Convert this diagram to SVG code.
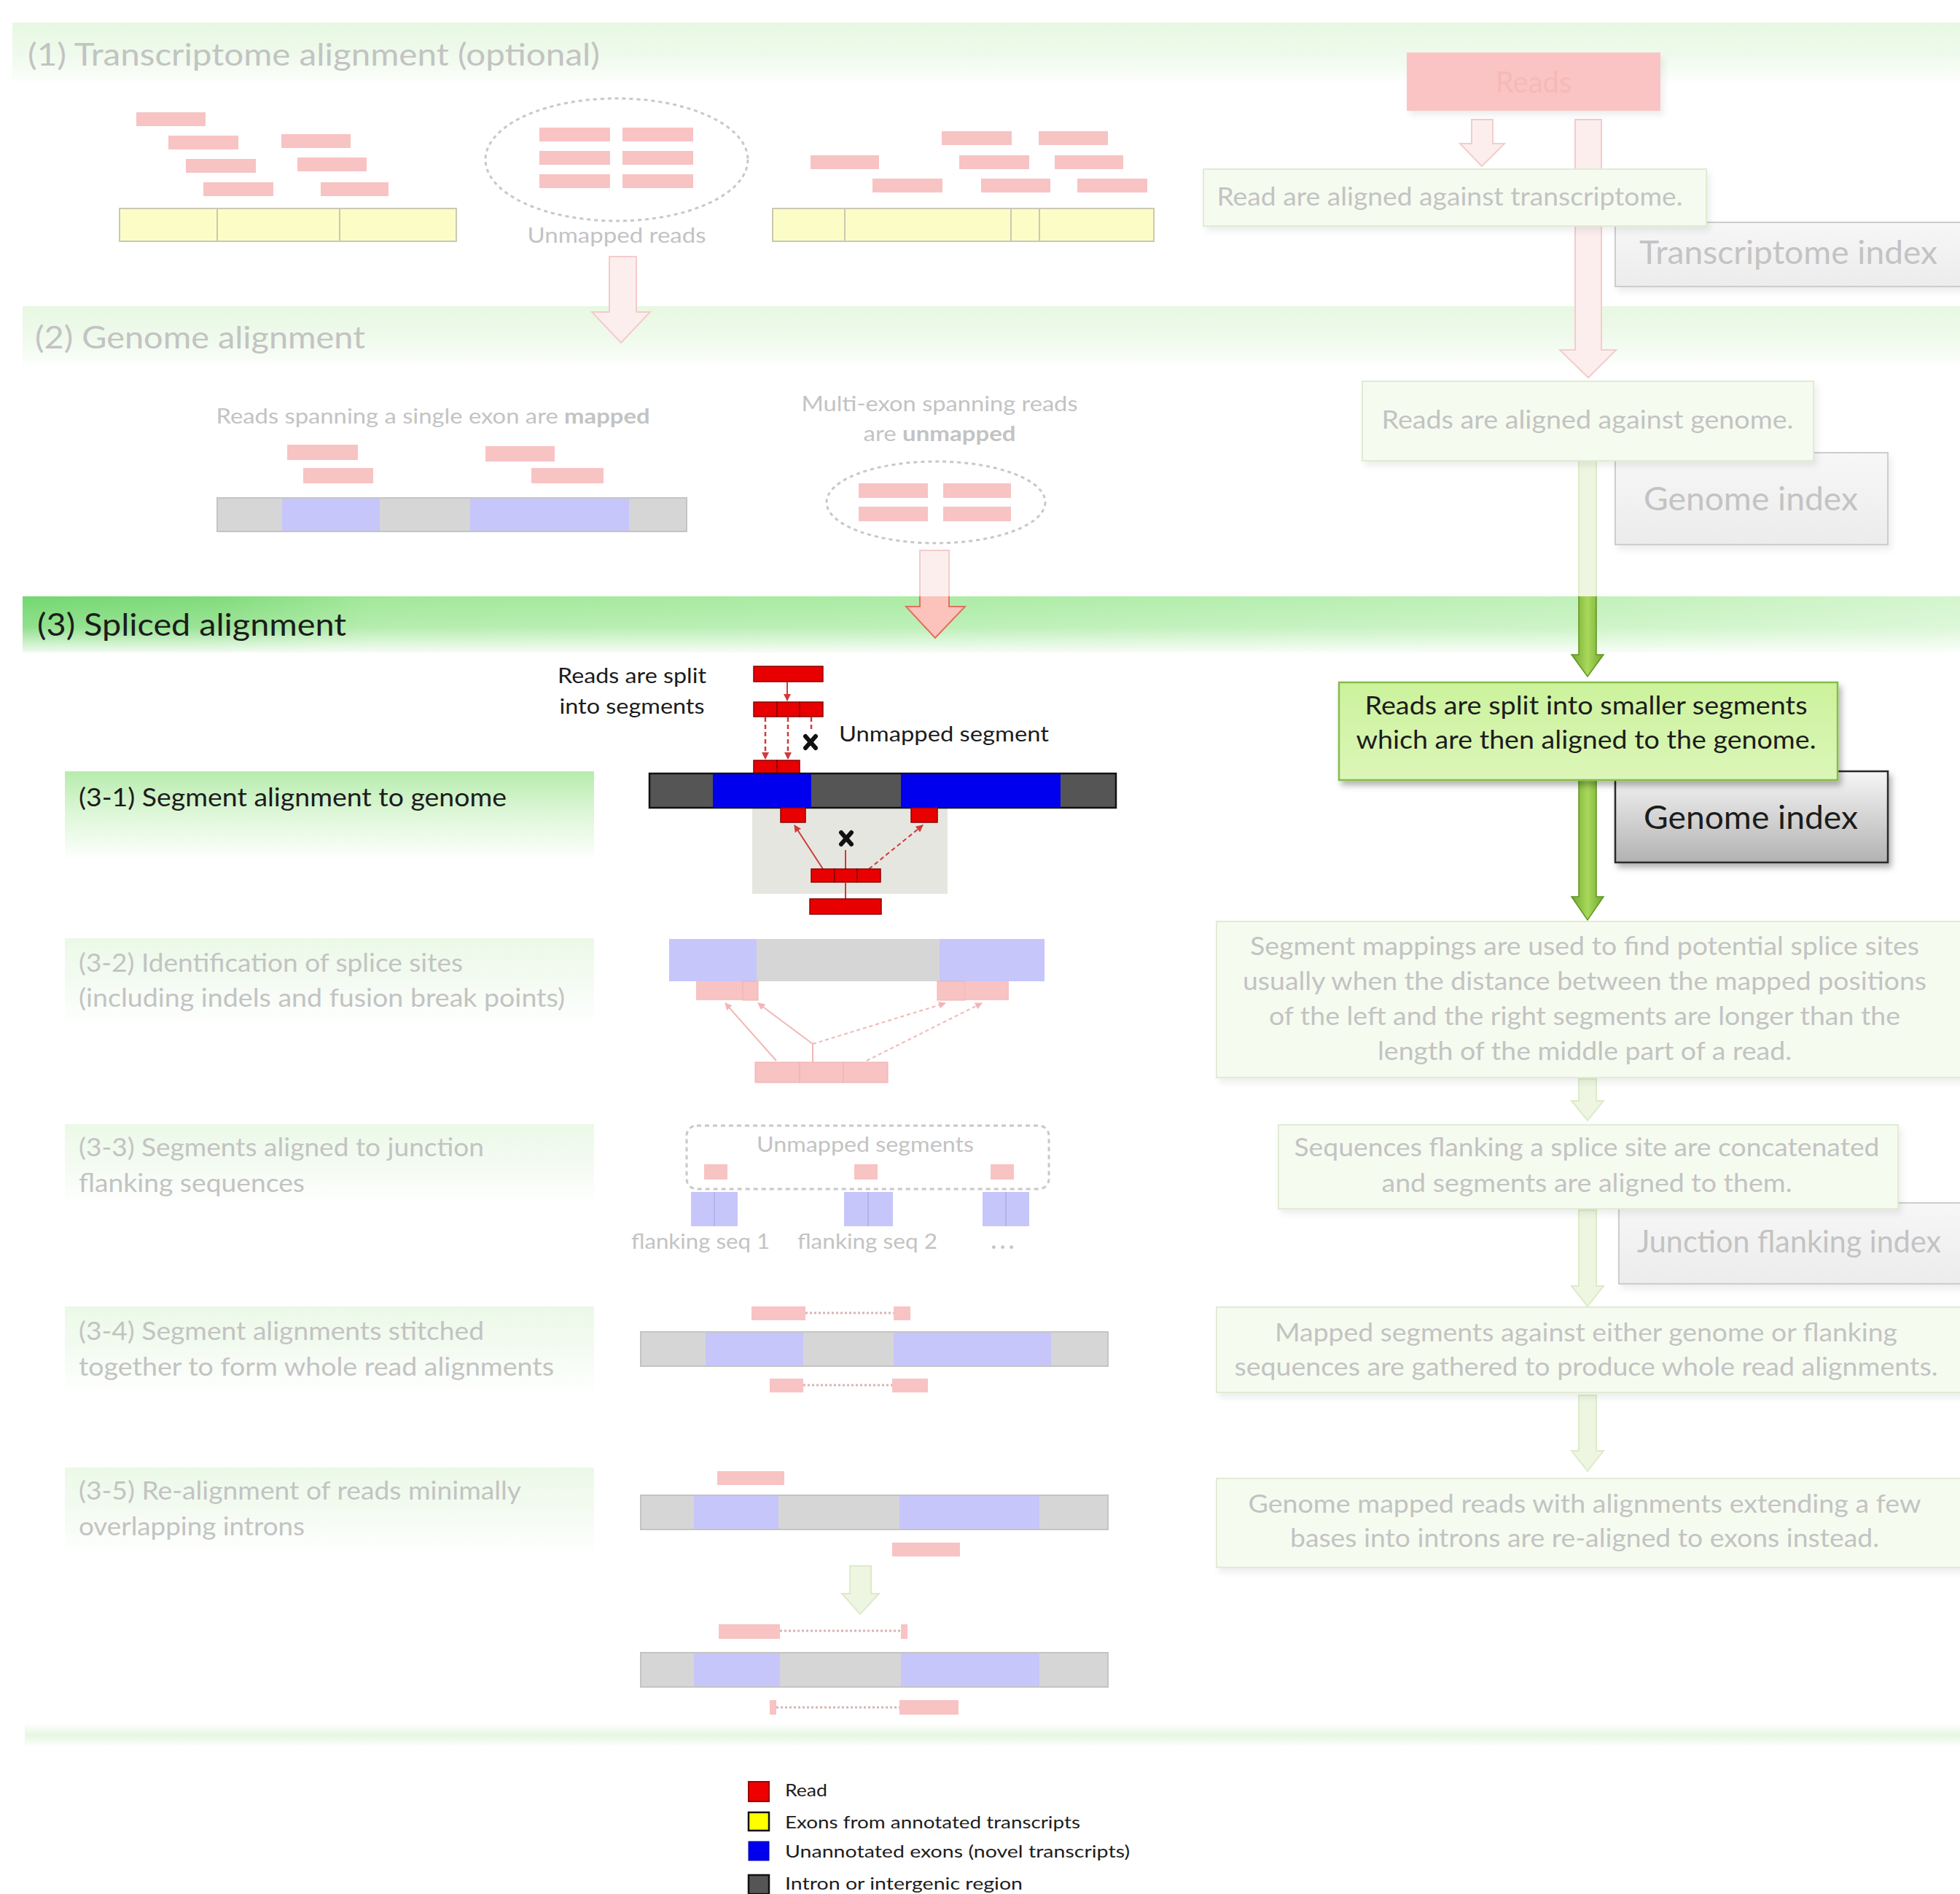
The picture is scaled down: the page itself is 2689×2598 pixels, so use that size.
<svg xmlns="http://www.w3.org/2000/svg" width="2689" height="2598" viewBox="0 0 2689 2598">
<defs>
<style>
text{font-family:Lato,"Liberation Sans",sans-serif}
.fd{fill:#c3c3c3}
.dk{fill:#1c1c1c}
.rp{fill:#f8c3c3}
.rv{fill:#e80000;stroke:#8c0000;stroke-width:1.5}
.yb{fill:#fcfcc6;stroke:#c9c9b4;stroke-width:2}
.gp{fill:#d6d6d6}
.bp{fill:#c6c6fa}
.gv{fill:#555555}
.bv{fill:#0000ee}
.pbox{fill:#f6fbf0;stroke:#e0ecd4;stroke-width:2}
.ibox{fill:url(#idxF);stroke:#cdcdcd;stroke-width:2}
.parr{fill:#fdeeee;stroke:#f3cccc;stroke-width:2}
.garr{fill:#eef6e2;stroke:#dcebc8;stroke-width:2}
.dash{fill:none;stroke:#c8c8c8;stroke-width:3;stroke-dasharray:5 5}
.lnp{fill:none;stroke:#f2b6b6;stroke-width:2}
.lnv{fill:none;stroke:#d03a3a;stroke-width:2.5;stroke-dasharray:6 4}
.dotp{fill:none;stroke:#d8b4b4;stroke-width:3;stroke-dasharray:3 3}
.xm{stroke:#111;stroke-width:6;stroke-linecap:round}
</style>
<linearGradient id="bandP" x1="0" y1="0" x2="0" y2="1"><stop offset="0" stop-color="#e7f8e2"/><stop offset="0.55" stop-color="#effaec"/><stop offset="1" stop-color="#fcfefb"/></linearGradient>
<linearGradient id="band3h" x1="0" y1="0" x2="1" y2="0"><stop offset="0" stop-color="#6cd668"/><stop offset="0.1" stop-color="#7ada74"/><stop offset="0.18" stop-color="#9de794"/><stop offset="0.5" stop-color="#a9eba2"/><stop offset="0.8" stop-color="#bdf0b5"/><stop offset="1" stop-color="#d2f5cc"/></linearGradient>
<linearGradient id="band3v" x1="0" y1="0" x2="0" y2="1"><stop offset="0" stop-color="#fff" stop-opacity="0.05"/><stop offset="0.55" stop-color="#fff" stop-opacity="0.25"/><stop offset="1" stop-color="#fff" stop-opacity="0.9"/></linearGradient>
<linearGradient id="lab1" x1="0" y1="0" x2="0" y2="1"><stop offset="0" stop-color="#b6ecac"/><stop offset="0.45" stop-color="#dcf6d6"/><stop offset="1" stop-color="#ffffff"/></linearGradient>
<linearGradient id="labF" x1="0" y1="0" x2="0" y2="1"><stop offset="0" stop-color="#ebf9e7"/><stop offset="0.5" stop-color="#f4fbf2"/><stop offset="1" stop-color="#ffffff"/></linearGradient>
<linearGradient id="boxV" x1="0" y1="0" x2="0" y2="1"><stop offset="0" stop-color="#cbf29c"/><stop offset="1" stop-color="#dcf6b8"/></linearGradient>
<linearGradient id="idxV" x1="0" y1="0" x2="0" y2="1"><stop offset="0" stop-color="#f6f6f6"/><stop offset="1" stop-color="#b2b2b2"/></linearGradient>
<linearGradient id="idxF" x1="0" y1="0" x2="0" y2="1"><stop offset="0" stop-color="#f7f7f7"/><stop offset="1" stop-color="#ececec"/></linearGradient>
<linearGradient id="garrV" x1="0" y1="0" x2="1" y2="0"><stop offset="0" stop-color="#6fa82c"/><stop offset="0.5" stop-color="#a9d85c"/><stop offset="1" stop-color="#6fa82c"/></linearGradient>
<linearGradient id="sep" x1="0" y1="0" x2="0" y2="1"><stop offset="0" stop-color="#fff"/><stop offset="0.5" stop-color="#e6f6e0"/><stop offset="1" stop-color="#fff"/></linearGradient>
<filter id="sh" x="-10%" y="-10%" width="130%" height="140%"><feDropShadow dx="4" dy="6" stdDeviation="4" flood-color="#000" flood-opacity="0.3"/></filter>
<filter id="shf" x="-10%" y="-10%" width="130%" height="140%"><feDropShadow dx="4" dy="6" stdDeviation="4" flood-color="#000" flood-opacity="0.07"/></filter>
<marker id="mv" markerWidth="10" markerHeight="10" refX="9" refY="5" orient="auto" markerUnits="userSpaceOnUse"><path d="M0,0 L10,5 L0,10 Z" fill="#d03a3a"/></marker>
<marker id="mp" markerWidth="10" markerHeight="10" refX="9" refY="5" orient="auto" markerUnits="userSpaceOnUse"><path d="M0,0 L10,5 L0,10 Z" fill="#f2b6b6"/></marker>
<clipPath id="clipTop"><rect x="0" y="0" width="2689" height="818"/></clipPath>
<clipPath id="clipBot"><rect x="0" y="818" width="2689" height="200"/></clipPath>
</defs>

<rect width="2689" height="2598" fill="#ffffff"/>

<!-- Section bands -->
<g id="band1"><rect x="17" y="31" width="2672" height="80" fill="url(#bandP)"/>
<text x="38" y="90" font-size="42" class="fd" textLength="785" lengthAdjust="spacingAndGlyphs">(1) Transcriptome alignment (optional)</text></g>
<g id="band2"><rect x="31" y="420" width="2658" height="80" fill="url(#bandP)"/>
<text x="48" y="478" font-size="42" class="fd" textLength="453" lengthAdjust="spacingAndGlyphs">(2) Genome alignment</text></g>
<g id="band3"><rect x="31" y="818" width="2658" height="77" fill="url(#band3h)"/><rect x="31" y="818" width="2658" height="77" fill="url(#band3v)"/>
<text x="51" y="872" font-size="42" class="dk" textLength="424" lengthAdjust="spacingAndGlyphs">(3) Spliced alignment</text></g>
<g id="separator"><rect x="34" y="2364" width="2655" height="32" fill="url(#sep)"/></g>

<!-- Connectors -->
<g id="connectors">
<path class="parr" d="M836,352 H873 V428 H892 L852,470 L812,428 H836 Z"/>
<path class="parr" d="M2161,164 H2197 V480 H2217 L2179,518 L2140,480 H2161 Z"/>
<path class="parr" d="M2019,164 H2048 V197 H2064 L2033,228 L2003,197 H2019 Z"/>
<path class="parr" d="M1262,755 H1302 V832 H1324 L1283,875 L1243,832 H1262 Z" clip-path="url(#clipTop)"/>
<path d="M1262,755 H1302 V832 H1324 L1283,875 L1243,832 H1262 Z" fill="#fbc3bb" stroke="#e2705f" stroke-width="2" clip-path="url(#clipBot)"/>
<path class="garr" d="M2166,632 H2190 V898 H2200 L2178,928 L2156,898 H2166 Z" clip-path="url(#clipTop)"/>
<path d="M2166,632 H2190 V898 H2200 L2178,928 L2156,898 H2166 Z" fill="url(#garrV)" stroke="#5f9620" stroke-width="1.5" clip-path="url(#clipBot)"/>
<path d="M2166,1070 H2190 V1230 H2200 L2178,1262 L2156,1230 H2166 Z" fill="url(#garrV)" stroke="#5f9620" stroke-width="1.5"/>
<path class="garr" d="M2166,1480 H2190 V1510 H2200 L2178,1537 L2156,1510 H2166 Z"/>
<path class="garr" d="M2166,1660 H2190 V1764 H2200 L2178,1792 L2156,1764 H2166 Z"/>
<path class="garr" d="M2166,1914 H2190 V1990 H2200 L2178,2018 L2156,1990 H2166 Z"/>
<path class="garr" d="M1166,2148 H1195 V2186 H1206 L1180,2214 L1155,2186 H1166 Z"/>
</g>

<!-- Section 1 left -->
<g id="s1-left-reads">
<rect class="rp" x="187" y="154" width="95" height="19"/>
<rect class="rp" x="231" y="186" width="96" height="19"/>
<rect class="rp" x="386" y="184" width="95" height="19"/>
<rect class="rp" x="255" y="218" width="96" height="19"/>
<rect class="rp" x="408" y="216" width="95" height="19"/>
<rect class="rp" x="279" y="250" width="96" height="19"/>
<rect class="rp" x="440" y="250" width="93" height="19"/>
<rect class="yb" x="164" y="286" width="462" height="45"/>
<line x1="298" y1="286" x2="298" y2="331" stroke="#c9c9b4" stroke-width="2"/>
<line x1="466" y1="286" x2="466" y2="331" stroke="#c9c9b4" stroke-width="2"/>
</g>
<g id="s1-unmapped">
<ellipse class="dash" cx="846" cy="219" rx="180" ry="84"/>
<rect class="rp" x="740" y="175" width="97" height="19"/><rect class="rp" x="854" y="175" width="97" height="19"/>
<rect class="rp" x="740" y="207" width="97" height="19"/><rect class="rp" x="854" y="207" width="97" height="19"/>
<rect class="rp" x="740" y="239" width="97" height="19"/><rect class="rp" x="854" y="239" width="97" height="19"/>
<text x="846" y="333" font-size="28" class="fd" text-anchor="middle" textLength="245" lengthAdjust="spacingAndGlyphs">Unmapped reads</text>
</g>
<g id="s1-right-reads">
<rect class="rp" x="1292" y="180" width="96" height="19"/><rect class="rp" x="1425" y="180" width="95" height="19"/>
<rect class="rp" x="1112" y="213" width="94" height="19"/><rect class="rp" x="1316" y="213" width="96" height="19"/><rect class="rp" x="1447" y="213" width="94" height="19"/>
<rect class="rp" x="1197" y="245" width="96" height="19"/><rect class="rp" x="1346" y="245" width="95" height="19"/><rect class="rp" x="1478" y="245" width="96" height="19"/>
<rect class="yb" x="1060" y="286" width="523" height="45"/>
<line x1="1159" y1="286" x2="1159" y2="331" stroke="#c9c9b4" stroke-width="2"/>
<line x1="1387" y1="286" x2="1387" y2="331" stroke="#c9c9b4" stroke-width="2"/>
<line x1="1426" y1="286" x2="1426" y2="331" stroke="#c9c9b4" stroke-width="2"/>
</g>

<!-- Section 1 right -->
<g id="reads-box"><rect x="1930" y="72" width="348" height="80" fill="#fbc4c4" filter="url(#shf)"/>
<text x="2104" y="127" font-size="40" fill="#f6b9b9" text-anchor="middle">Reads</text></g>
<g id="transcriptome-index"><rect class="ibox" x="2216" y="305" width="490" height="88" filter="url(#shf)"/>
<text x="2249" y="362" font-size="44" class="fd" textLength="409" lengthAdjust="spacingAndGlyphs">Transcriptome index</text></g>
<g id="transcriptome-step"><rect class="pbox" x="1651" y="232" width="690" height="78" filter="url(#shf)"/>
<text x="1989" y="282" font-size="34" class="fd" text-anchor="middle" textLength="639" lengthAdjust="spacingAndGlyphs">Read are aligned against transcriptome.</text></g>

<!-- Section 2 -->
<g id="s2-mapped">
<text x="594" y="581" font-size="28" class="fd" text-anchor="middle" textLength="595" lengthAdjust="spacingAndGlyphs">Reads spanning a single exon are <tspan font-weight="bold">mapped</tspan></text>
<rect class="rp" x="394" y="610" width="97" height="21"/><rect class="rp" x="416" y="642" width="96" height="21"/>
<rect class="rp" x="666" y="612" width="95" height="21"/><rect class="rp" x="729" y="642" width="99" height="21"/>
<rect x="298" y="683" width="644" height="46" fill="#d6d6d6" stroke="#c4c4c4" stroke-width="2"/>
<rect class="bp" x="387" y="684" width="134" height="44"/><rect class="bp" x="645" y="684" width="218" height="44"/>
</g>
<g id="s2-unmapped">
<text x="1289" y="564" font-size="28" class="fd" text-anchor="middle" textLength="379" lengthAdjust="spacingAndGlyphs">Multi-exon spanning reads</text>
<text x="1289" y="605" font-size="28" class="fd" text-anchor="middle" textLength="209" lengthAdjust="spacingAndGlyphs">are <tspan font-weight="bold">unmapped</tspan></text>
<ellipse class="dash" cx="1284" cy="689" rx="150" ry="56"/>
<rect class="rp" x="1178" y="663" width="95" height="20"/><rect class="rp" x="1294" y="663" width="93" height="20"/>
<rect class="rp" x="1178" y="695" width="95" height="20"/><rect class="rp" x="1294" y="695" width="93" height="20"/>
</g>
<g id="genome-index-1"><rect class="ibox" x="2216" y="621" width="374" height="126" filter="url(#shf)"/>
<text x="2402" y="700" font-size="44" class="fd" text-anchor="middle" textLength="294" lengthAdjust="spacingAndGlyphs">Genome index</text></g>
<g id="genome-step"><rect class="pbox" x="1869" y="523" width="619" height="109" filter="url(#shf)"/>
<text x="2178" y="588" font-size="34" class="fd" text-anchor="middle" textLength="565" lengthAdjust="spacingAndGlyphs">Reads are aligned against genome.</text></g>

<!-- 3-1 -->
<g id="label-3-1"><rect x="89" y="1058" width="726" height="122" fill="url(#lab1)"/>
<text x="108" y="1106" font-size="34" class="dk" textLength="587" lengthAdjust="spacingAndGlyphs">(3-1) Segment alignment to genome</text></g>
<g id="diagram-3-1">
<text x="867" y="937" font-size="28" class="dk" text-anchor="middle" textLength="204" lengthAdjust="spacingAndGlyphs">Reads are split</text>
<text x="867" y="979" font-size="28" class="dk" text-anchor="middle" textLength="199" lengthAdjust="spacingAndGlyphs">into segments</text>
<text x="1151" y="1017" font-size="28" class="dk" textLength="288" lengthAdjust="spacingAndGlyphs">Unmapped segment</text>
<rect x="1032" y="1108" width="268" height="118" fill="#e6e6e0"/>
<rect class="rv" x="1034" y="914" width="95" height="21"/>
<line x1="1080" y1="936" x2="1080" y2="961" stroke="#d03a3a" stroke-width="2" marker-end="url(#mv)"/>
<rect class="rv" x="1034" y="963" width="32" height="20"/><rect class="rv" x="1066" y="963" width="31" height="20"/><rect class="rv" x="1097" y="963" width="32" height="20"/>
<line class="lnv" x1="1050" y1="984" x2="1050" y2="1041" marker-end="url(#mv)"/>
<line class="lnv" x1="1081" y1="984" x2="1081" y2="1041" marker-end="url(#mv)"/>
<line class="lnv" x1="1113" y1="984" x2="1113" y2="1004"/>
<path class="xm" d="M1105,1010 L1119,1026 M1119,1010 L1105,1026"/>
<rect class="rv" x="1034" y="1043" width="32" height="19"/><rect class="rv" x="1066" y="1043" width="31" height="19"/>
<rect x="891" y="1061" width="640" height="47" fill="#555555" stroke="#111" stroke-width="2.5"/>
<rect class="bv" x="978" y="1062" width="135" height="45"/><rect class="bv" x="1236" y="1062" width="219" height="45"/>
<rect class="rv" x="1071" y="1108" width="34" height="20"/><rect class="rv" x="1250" y="1108" width="36" height="20"/>
<line x1="1129" y1="1192" x2="1090" y2="1132" stroke="#d03a3a" stroke-width="2" marker-end="url(#mv)"/>
<line x1="1192" y1="1192" x2="1266" y2="1132" stroke="#d03a3a" stroke-width="2" stroke-dasharray="6 4" marker-end="url(#mv)"/>
<line x1="1160" y1="1192" x2="1160" y2="1166" stroke="#d03a3a" stroke-width="2"/>
<path class="xm" d="M1154,1142 L1168,1158 M1168,1142 L1154,1158"/>
<rect class="rv" x="1113" y="1192" width="32" height="18"/><rect class="rv" x="1145" y="1192" width="31" height="18"/><rect class="rv" x="1176" y="1192" width="32" height="18"/>
<line x1="1160" y1="1210" x2="1160" y2="1233" stroke="#d03a3a" stroke-width="2"/>
<rect class="rv" x="1111" y="1233" width="98" height="21"/>
</g>
<g id="genome-index-2"><rect x="2216" y="1058" width="374" height="125" fill="url(#idxV)" stroke="#2a2a2a" stroke-width="2.5" filter="url(#sh)"/>
<text x="2402" y="1137" font-size="44" class="dk" text-anchor="middle" textLength="294" lengthAdjust="spacingAndGlyphs">Genome index</text></g>
<g id="split-step"><rect x="1837" y="936" width="684" height="134" fill="url(#boxV)" stroke="#86bd4a" stroke-width="2.5" filter="url(#sh)"/>
<text x="2176" y="980" font-size="34" class="dk" text-anchor="middle" textLength="607" lengthAdjust="spacingAndGlyphs">Reads are split into smaller segments</text>
<text x="2176" y="1027" font-size="34" class="dk" text-anchor="middle" textLength="631" lengthAdjust="spacingAndGlyphs">which are then aligned to the genome.</text></g>

<!-- 3-2 -->
<g id="label-3-2"><rect x="89" y="1287" width="726" height="120" fill="url(#labF)"/>
<text x="108" y="1333" font-size="34" class="fd" textLength="527" lengthAdjust="spacingAndGlyphs">(3-2) Identification of splice sites</text>
<text x="108" y="1381" font-size="34" class="fd" textLength="667" lengthAdjust="spacingAndGlyphs">(including indels and fusion break points)</text></g>
<g id="diagram-3-2">
<rect x="918" y="1288" width="515" height="58" fill="#d6d6d6"/>
<rect class="bp" x="918" y="1288" width="120" height="58"/><rect class="bp" x="1289" y="1288" width="144" height="58"/>
<rect class="rp" x="955" y="1346" width="64" height="26"/><rect class="rp" x="1019" y="1346" width="21" height="26" stroke="#eeb0b0" stroke-width="1"/>
<rect class="rp" x="1286" y="1346" width="38" height="26" stroke="#eeb0b0" stroke-width="1"/><rect class="rp" x="1324" y="1346" width="60" height="26"/>
<line class="lnp" x1="1065" y1="1455" x2="995" y2="1376" marker-end="url(#mp)"/>
<line class="lnp" x1="1115" y1="1432" x2="1040" y2="1376" marker-end="url(#mp)"/>
<line class="lnp" x1="1115" y1="1432" x2="1297" y2="1376" stroke-dasharray="5 4" marker-end="url(#mp)"/>
<line class="lnp" x1="1189" y1="1455" x2="1347" y2="1376" stroke-dasharray="5 4" marker-end="url(#mp)"/>
<line class="lnp" x1="1115" y1="1432" x2="1115" y2="1457"/>
<rect class="rp" x="1036" y="1457" width="61" height="28" stroke="#eeb0b0" stroke-width="1"/><rect class="rp" x="1097" y="1457" width="60" height="28" stroke="#eeb0b0" stroke-width="1"/><rect class="rp" x="1157" y="1457" width="61" height="28" stroke="#eeb0b0" stroke-width="1"/>
</g>
<g id="segment-step"><rect class="pbox" x="1669" y="1264" width="1040" height="214" filter="url(#shf)"/>
<text x="2174" y="1310" font-size="34" class="fd" text-anchor="middle" textLength="918" lengthAdjust="spacingAndGlyphs">Segment mappings are used to find potential splice sites</text>
<text x="2174" y="1358" font-size="34" class="fd" text-anchor="middle" textLength="938" lengthAdjust="spacingAndGlyphs">usually when the distance between the mapped positions</text>
<text x="2174" y="1406" font-size="34" class="fd" text-anchor="middle" textLength="866" lengthAdjust="spacingAndGlyphs">of the left and the right segments are longer than the</text>
<text x="2174" y="1454" font-size="34" class="fd" text-anchor="middle" textLength="568" lengthAdjust="spacingAndGlyphs">length of the middle part of a read.</text></g>

<!-- 3-3 -->
<g id="label-3-3"><rect x="89" y="1542" width="726" height="111" fill="url(#labF)"/>
<text x="108" y="1586" font-size="34" class="fd" textLength="556" lengthAdjust="spacingAndGlyphs">(3-3) Segments aligned to junction</text>
<text x="108" y="1635" font-size="34" class="fd" textLength="310" lengthAdjust="spacingAndGlyphs">flanking sequences</text></g>
<g id="diagram-3-3">
<rect x="942" y="1544" width="497" height="87" rx="14" fill="none" stroke="#c8c8c8" stroke-width="3" stroke-dasharray="6 5"/>
<text x="1187" y="1580" font-size="28" class="fd" text-anchor="middle" textLength="298" lengthAdjust="spacingAndGlyphs">Unmapped segments</text>
<rect class="rp" x="966" y="1597" width="32" height="21"/><rect class="rp" x="1172" y="1597" width="32" height="21"/><rect class="rp" x="1359" y="1597" width="32" height="21"/>
<rect class="bp" x="948" y="1635" width="64" height="47"/><line x1="980" y1="1635" x2="980" y2="1682" stroke="#b4b4ee" stroke-width="2"/>
<rect class="bp" x="1158" y="1635" width="67" height="47"/><line x1="1191" y1="1635" x2="1191" y2="1682" stroke="#b4b4ee" stroke-width="2"/>
<rect class="bp" x="1348" y="1635" width="64" height="47"/><line x1="1380" y1="1635" x2="1380" y2="1682" stroke="#b4b4ee" stroke-width="2"/>
<text x="961" y="1713" font-size="28" class="fd" text-anchor="middle" textLength="190" lengthAdjust="spacingAndGlyphs">flanking seq 1</text>
<text x="1190" y="1713" font-size="28" class="fd" text-anchor="middle" textLength="192" lengthAdjust="spacingAndGlyphs">flanking seq 2</text>
<text x="1378" y="1713" font-size="30" class="fd" text-anchor="middle" font-weight="bold" letter-spacing="5">...</text>
</g>
<g id="junction-index"><rect class="ibox" x="2221" y="1650" width="490" height="111" filter="url(#shf)"/>
<text x="2246" y="1718" font-size="42" class="fd" textLength="417" lengthAdjust="spacingAndGlyphs">Junction flanking index</text></g>
<g id="flanking-step"><rect class="pbox" x="1754" y="1543" width="850" height="115" filter="url(#shf)"/>
<text x="2177" y="1586" font-size="34" class="fd" text-anchor="middle" textLength="803" lengthAdjust="spacingAndGlyphs">Sequences flanking a splice site are concatenated</text>
<text x="2177" y="1635" font-size="34" class="fd" text-anchor="middle" textLength="563" lengthAdjust="spacingAndGlyphs">and segments are aligned to them.</text></g>

<!-- 3-4 -->
<g id="label-3-4"><rect x="89" y="1792" width="726" height="121" fill="url(#labF)"/>
<text x="108" y="1838" font-size="34" class="fd" textLength="556" lengthAdjust="spacingAndGlyphs">(3-4) Segment alignments stitched</text>
<text x="108" y="1887" font-size="34" class="fd" textLength="652" lengthAdjust="spacingAndGlyphs">together to form whole read alignments</text></g>
<g id="diagram-3-4">
<rect class="rp" x="1031" y="1792" width="74" height="19"/>
<line class="dotp" x1="1105" y1="1801" x2="1226" y2="1801"/>
<rect class="rp" x="1226" y="1792" width="23" height="19"/>
<rect x="879" y="1827" width="641" height="47" fill="#d6d6d6" stroke="#c4c4c4" stroke-width="2"/>
<rect class="bp" x="968" y="1828" width="134" height="45"/><rect class="bp" x="1226" y="1828" width="216" height="45"/>
<rect class="rp" x="1056" y="1891" width="46" height="19"/>
<line class="dotp" x1="1102" y1="1900" x2="1224" y2="1900"/>
<rect class="rp" x="1224" y="1891" width="49" height="19"/>
</g>
<g id="stitch-step"><rect class="pbox" x="1669" y="1793" width="1040" height="117" filter="url(#shf)"/>
<text x="2176" y="1840" font-size="34" class="fd" text-anchor="middle" textLength="854" lengthAdjust="spacingAndGlyphs">Mapped segments against either genome or flanking</text>
<text x="2176" y="1887" font-size="34" class="fd" text-anchor="middle" textLength="965" lengthAdjust="spacingAndGlyphs">sequences are gathered to produce whole read alignments.</text></g>

<!-- 3-5 -->
<g id="label-3-5"><rect x="89" y="2013" width="726" height="119" fill="url(#labF)"/>
<text x="108" y="2057" font-size="34" class="fd" textLength="607" lengthAdjust="spacingAndGlyphs">(3-5) Re-alignment of reads minimally</text>
<text x="108" y="2106" font-size="34" class="fd" textLength="310" lengthAdjust="spacingAndGlyphs">overlapping introns</text></g>
<g id="diagram-3-5">
<rect class="rp" x="984" y="2018" width="92" height="19"/>
<rect x="879" y="2051" width="641" height="47" fill="#d6d6d6" stroke="#c4c4c4" stroke-width="2"/>
<rect class="bp" x="952" y="2052" width="116" height="45"/><rect class="bp" x="1234" y="2052" width="192" height="45"/>
<rect class="rp" x="1224" y="2116" width="93" height="19"/>
<rect class="rp" x="986" y="2228" width="84" height="20"/>
<line class="dotp" x1="1070" y1="2237" x2="1236" y2="2237"/>
<rect class="rp" x="1236" y="2228" width="9" height="20"/>
<rect x="879" y="2267" width="641" height="47" fill="#d6d6d6" stroke="#c4c4c4" stroke-width="2"/>
<rect class="bp" x="952" y="2268" width="118" height="45"/><rect class="bp" x="1236" y="2268" width="190" height="45"/>
<rect class="rp" x="1056" y="2332" width="9" height="20"/>
<line class="dotp" x1="1065" y1="2342" x2="1234" y2="2342"/>
<rect class="rp" x="1234" y="2332" width="81" height="20"/>
</g>
<g id="realign-step"><rect class="pbox" x="1669" y="2028" width="1040" height="122" filter="url(#shf)"/>
<text x="2174" y="2075" font-size="34" class="fd" text-anchor="middle" textLength="923" lengthAdjust="spacingAndGlyphs">Genome mapped reads with alignments extending a few</text>
<text x="2174" y="2122" font-size="34" class="fd" text-anchor="middle" textLength="808" lengthAdjust="spacingAndGlyphs">bases into introns are re-aligned to exons instead.</text></g>

<!-- Legend -->
<g id="legend">
<rect x="1027" y="2444" width="28" height="27" fill="#ee0000" stroke="#a00000" stroke-width="2"/>
<text x="1077" y="2464" font-size="24" class="dk" textLength="58" lengthAdjust="spacingAndGlyphs">Read</text>
<rect x="1027" y="2486" width="28" height="25" fill="#ffff00" stroke="#111" stroke-width="2.5"/>
<text x="1077" y="2508" font-size="24" class="dk" textLength="405" lengthAdjust="spacingAndGlyphs">Exons from annotated transcripts</text>
<rect x="1027" y="2526" width="28" height="26" fill="#0000ee" stroke="#0000aa" stroke-width="1"/>
<text x="1077" y="2548" font-size="24" class="dk" textLength="473" lengthAdjust="spacingAndGlyphs">Unannotated  exons (novel transcripts)</text>
<rect x="1027" y="2572" width="28" height="26" fill="#555555" stroke="#111" stroke-width="2.5"/>
<text x="1077" y="2592" font-size="24" class="dk" textLength="326" lengthAdjust="spacingAndGlyphs">Intron or intergenic region</text>
</g>
</svg>
